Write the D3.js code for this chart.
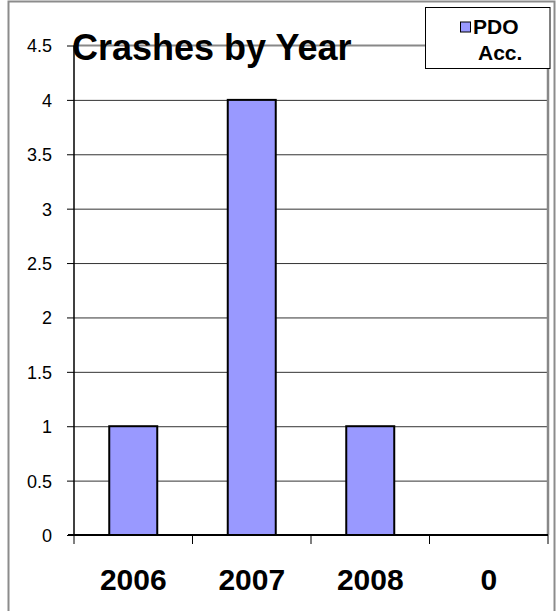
<!DOCTYPE html>
<html>
<head>
<meta charset="utf-8">
<script src="https://cdn.jsdelivr.net/npm/d3@7"></script>
<style>
  html, body { margin: 0; padding: 0; background: #fff; }
  svg { display: block; }
  text { font-family: Arial, "Liberation Sans", sans-serif; }
</style>
</head>
<body>
<div id="chart"></div>
<script>
const categories = ["2006", "2007", "2008", "0"];
const values = [1, 4, 1, 0];
const yTicks = [0, 0.5, 1, 1.5, 2, 2.5, 3, 3.5, 4, 4.5];
const yTickLabels = ["0", "0.5", "1", "1.5", "2", "2.5", "3", "3.5", "4", "4.5"];
const seriesName = ["PDO", "Acc."];
const titleText = "Crashes by Year";

const W = 556, H = 611;
const pLeft = 74, pRight = 548, pTop = 45.5, pBottom = 535;

const svg = d3.select("#chart").append("svg").attr("width", W).attr("height", H);

// outer chart frame
svg.append("rect").attr("x", 8.5).attr("y", 1.5).attr("width", 546).attr("height", 620)
  .attr("fill", "#fff").attr("stroke", "#8c8c8c").attr("stroke-width", 2);

const x = d3.scaleBand().domain(categories).range([pLeft, pRight]).paddingInner(0.595).paddingOuter(0.2975);
const xCat = d3.scaleBand().domain(categories).range([pLeft, pRight]).padding(0);
const y = d3.scaleLinear().domain([0, 4.5]).range([pBottom, pTop]);

// gridlines
const grid = svg.append("g").attr("transform", `translate(${pLeft},0)`)
  .call(d3.axisLeft(y).tickValues(yTicks.filter(v => v > 0 && v < 4.5)).tickSize(-(pRight - pLeft)).tickFormat(""));
grid.select(".domain").remove();
grid.selectAll("line").attr("stroke", "#333").attr("stroke-width", 1);

// plot area border (top and right)
svg.append("line").attr("x1", pLeft).attr("x2", pRight).attr("y1", y(4.5)).attr("y2", y(4.5))
  .attr("stroke", "#888").attr("stroke-width", 2);
svg.append("line").attr("x1", pRight).attr("x2", pRight).attr("y1", y(4.5)).attr("y2", y(0))
  .attr("stroke", "#888").attr("stroke-width", 2.5);

// bars
svg.append("g").selectAll("rect").data(values).join("rect")
  .attr("x", (d, i) => x(categories[i]))
  .attr("y", d => y(d))
  .attr("width", x.bandwidth())
  .attr("height", d => y(0) - y(d))
  .attr("fill", "#9999ff").attr("stroke", "#000").attr("stroke-width", 2)
  .attr("display", d => d > 0 ? null : "none");

// y axis
const yAxis = svg.append("g").attr("transform", `translate(${pLeft},0)`)
  .call(d3.axisLeft(y).tickValues(yTicks).tickSize(7).tickPadding(15)
    .tickFormat((d, i) => yTickLabels[i]));
yAxis.select(".domain").attr("stroke", "#000").attr("stroke-width", 1.5).attr("d", `M0,${y(4.5)}V${y(0)}`);
yAxis.selectAll("line").attr("stroke", "#000");
yAxis.selectAll("text").attr("font-size", 18).attr("fill", "#000")
  .attr("font-family", "Arial, 'Liberation Sans', sans-serif").attr("dy", "0.36em");

// x axis
const xAxis = svg.append("g").attr("transform", `translate(0,${pBottom})`);
xAxis.append("line").attr("x1", pLeft - 6).attr("x2", pRight).attr("y1", 0).attr("y2", 0)
  .attr("stroke", "#000").attr("stroke-width", 2);
const tickPos = categories.map(c => xCat(c)).concat([pRight]);
xAxis.selectAll("line.tick").data(tickPos).join("line").attr("class", "tick")
  .attr("x1", d => d).attr("x2", d => d).attr("y1", 0).attr("y2", 9)
  .attr("stroke", "#000").attr("stroke-width", 1);
xAxis.selectAll("text").data(categories).join("text")
  .attr("x", d => xCat(d) + xCat.bandwidth() / 2)
  .attr("y", 590 - pBottom)
  .attr("text-anchor", "middle")
  .attr("font-size", 30).attr("font-weight", "bold").attr("fill", "#000")
  .text(d => d);

// title
svg.append("text").attr("x", 72).attr("y", 59.5)
  .attr("font-size", 36).attr("font-weight", "bold").attr("fill", "#000")
  .text(titleText);

// legend
const lg = svg.append("g");
lg.append("rect").attr("x", 425.5).attr("y", 7.5).attr("width", 124.5).attr("height", 61)
  .attr("fill", "#fff").attr("stroke", "#000").attr("stroke-width", 1);
lg.append("rect").attr("x", 460.5).attr("y", 22).attr("width", 10).attr("height", 10)
  .attr("fill", "#9999ff").attr("stroke", "#000").attr("stroke-width", 1);
lg.append("text").attr("x", 473).attr("y", 34).attr("font-size", 21).attr("font-weight", "bold")
  .attr("fill", "#000").text(seriesName[0]);
lg.append("text").attr("x", 478).attr("y", 59.5).attr("font-size", 21).attr("font-weight", "bold")
  .attr("fill", "#000").text(seriesName[1]);
</script>
</body>
</html>
